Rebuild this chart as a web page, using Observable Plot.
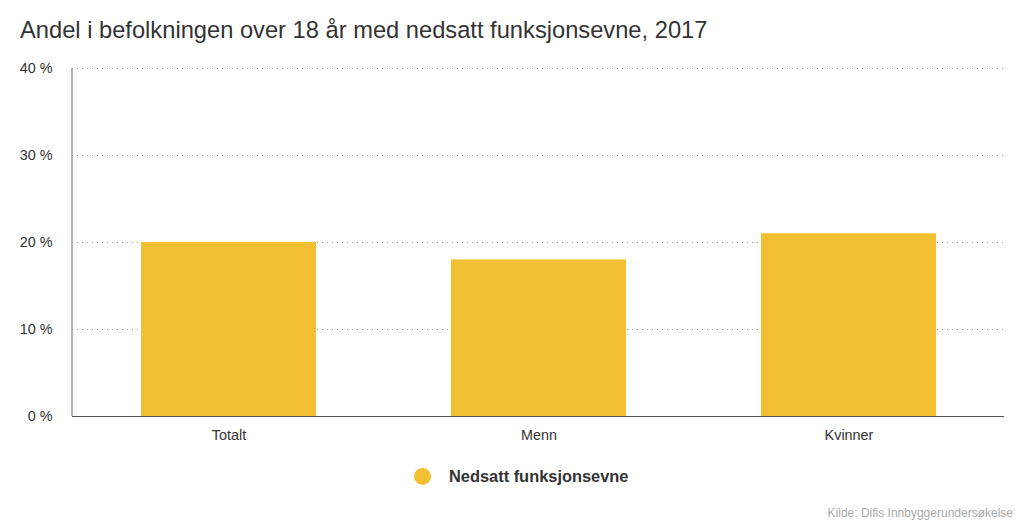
<!DOCTYPE html>
<html>
<head>
<meta charset="utf-8">
<script src="https://cdn.jsdelivr.net/npm/d3@7"></script>
<script src="https://cdn.jsdelivr.net/npm/@observablehq/plot@0.6"></script>
<style>
  html, body { margin: 0; padding: 0; background: #fff; }
  body { width: 1024px; height: 525px; position: relative; overflow: hidden; font-family: "Liberation Sans", Arial, sans-serif; }
  #title { position: absolute; left: 20px; top: 17px; font-size: 23.7px; color: #333; white-space: nowrap; }
  #chart { position: absolute; left: 0; top: 50px; }
  #legend { position: absolute; left: 414px; top: 467px; display: flex; align-items: center; font-size: 16.4px; font-weight: bold; color: #333; }
  #legend .dot { width: 17px; height: 17px; border-radius: 50%; background: #f3bf32; margin-right: 18px; }
  #source { position: absolute; right: 11px; top: 506px; font-size: 12px; color: #aaa; }
</style>
</head>
<body>
<div id="title">Andel i befolkningen over 18 år med nedsatt funksjonsevne, 2017</div>
<div id="chart"></div>
<div id="legend"><span class="dot"></span><span>Nedsatt funksjonsevne</span></div>
<div id="source">Kilde: Difis Innbyggerundersøkelse</div>
<script>
const categories = ["Totalt", "Menn", "Kvinner"];
const values = [20, 18, 21];
const yTicks = [0, 10, 20, 30, 40];
const gridTicks = [10, 20, 30, 40];

const data = categories.map((c, i) => ({category: c, value: values[i]}));

const plot = Plot.plot({
  width: 1024,
  height: 410,
  marginTop: 18,
  marginBottom: 44,
  marginLeft: 72,
  marginRight: 20,
  style: {fontFamily: "Liberation Sans, Arial, sans-serif", fontSize: "14.4px", color: "#333", background: "#fff"},
  x: {domain: categories, paddingInner: 0.437, paddingOuter: 0.2185, label: null},
  y: {domain: [0, 40], label: null},
  marks: [
    Plot.ruleY(gridTicks, {stroke: "#999", strokeWidth: 1, strokeDasharray: "1,4"}),
    Plot.barY(data, {x: "category", y: "value", fill: "#f3bf32"}),
    Plot.ruleY([0], {stroke: "#555", strokeWidth: 1}),
    Plot.axisY({ticks: yTicks, tickSize: 0, tickPadding: 20, tickFormat: d => d + " %", fontSize: 14.4, fill: "#333"}),
    Plot.axisX({tickSize: 0, tickPadding: 13, fontSize: 14.4, fill: "#333"})
  ]
});
document.getElementById("chart").appendChild(plot);

// left axis line using the plot's own scales
const ys = plot.scale("y");
const svg = d3.select(plot.tagName.toLowerCase() === "svg" ? plot : plot.querySelector("svg"));
svg.append("line")
  .attr("x1", 72).attr("x2", 72)
  .attr("y1", ys.apply(40)).attr("y2", ys.apply(0))
  .attr("stroke", "#999").attr("stroke-width", 1.5);
</script>
</body>
</html>
